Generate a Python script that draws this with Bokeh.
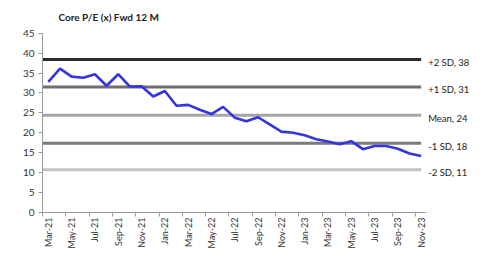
import numpy as np
from bokeh.plotting import figure
from bokeh.models import FixedTicker, ColumnDataSource, Range1d, LabelSet, Label
from bokeh.core.properties import value
from bokeh.embed import file_html
from bokeh.resources import INLINE

months = ["Mar-21", "Apr-21", "May-21", "Jun-21", "Jul-21", "Aug-21", "Sep-21", "Oct-21",
          "Nov-21", "Dec-21", "Jan-22", "Feb-22", "Mar-22", "Apr-22", "May-22", "Jun-22",
          "Jul-22", "Aug-22", "Sep-22", "Oct-22", "Nov-22", "Dec-22", "Jan-23", "Feb-23",
          "Mar-23", "Apr-23", "May-23", "Jun-23", "Jul-23", "Aug-23", "Sep-23", "Oct-23",
          "Nov-23"]
pe = [32.8, 36.1, 34.1, 33.8, 34.7, 31.8, 34.7, 31.6, 31.7, 29.1, 30.5, 26.8, 27.0, 25.8,
      24.7, 26.5, 23.8, 22.9, 23.9, 22.1, 20.3, 20.0, 19.4, 18.4, 17.8, 17.1, 17.9, 15.9,
      16.7, 16.7, 16.0, 14.8, 14.2]
band_values = [38.4, 31.5, 24.4, 17.4, 10.7]
band_labels = ["+2 SD, 38", "+1 SD, 31", "Mean,  24", "-1 SD, 18", "-2 SD, 11"]
band_colors = ["#2b2b2b", "#6e6e6e", "#a6a6a6", "#7a7a7a", "#c2c2c2"]
y_ticks = [0, 5, 10, 15, 20, 25, 30, 35, 40, 45]
title_text = "Core P/E (x) Fwd 12 M"

FONT = "Lato"
n = len(months)
xs = [i + 0.5 for i in range(n)]

p = figure(width=476, height=251, output_backend="svg", toolbar_location=None,
           x_range=Range1d(0, 37.25), y_range=Range1d(0, 53.2),
           min_border_left=42, min_border_right=0, min_border_bottom=37, min_border_top=0)

p.xgrid.visible = False
p.ygrid.visible = False
p.outline_line_color = None
p.background_fill_color = "white"
p.border_fill_color = "white"

# SD bands
x_end = xs[-1]
for v, c in zip(band_values, band_colors):
    p.line([0, x_end], [v, v], line_color=c, line_width=3)
src = ColumnDataSource(dict(x=[x_end] * len(band_values), y=band_values, t=band_labels))
p.add_layout(LabelSet(x="x", y="y", text="t", source=src, x_offset=7, y_offset=-3,
                      text_font=value(FONT), text_font_size=value("9.5px"),
                      text_color=value("#222222"),
                      text_baseline=value("middle"), text_align=value("left")))

# P/E line
p.line(xs, pe, line_color="#3434e0", line_width=2.6)

# title
p.add_layout(Label(x=16, y=196, x_units="screen", y_units="screen", text=title_text,
                   text_font=FONT, text_font_size="10px", text_font_style="bold",
                   text_color="#222222", text_baseline="middle", text_align="left"))

# axes
xa = p.xaxis[0]
xa.bounds = (0, n)
xa.ticker = FixedTicker(ticks=xs[::2], minor_ticks=list(range(0, n, 2)))
xa.major_label_overrides = {x: m for x, m in zip(xs, months)}
xa.major_label_orientation = np.pi / 2
xa.major_tick_out = 0
xa.major_tick_in = 0
xa.minor_tick_out = 4
xa.minor_tick_in = 0
xa.minor_tick_line_color = "#9a9a9a"
xa.axis_line_color = "#9a9a9a"
xa.major_label_text_font = FONT
xa.major_label_text_font_size = "9px"
xa.major_label_text_color = "#333333"
xa.major_label_standoff = 1

ya = p.yaxis[0]
ya.bounds = (0, 45)
ya.ticker = FixedTicker(ticks=y_ticks)
ya.minor_tick_line_color = None
ya.major_tick_out = 4
ya.major_tick_in = 0
ya.major_tick_line_color = "#9a9a9a"
ya.axis_line_color = "#9a9a9a"
ya.major_label_text_font = FONT
ya.major_label_text_font_size = "10px"
ya.major_label_text_color = "#333333"
ya.major_label_standoff = 4

open("out.html", "w").write(file_html(p, INLINE))
